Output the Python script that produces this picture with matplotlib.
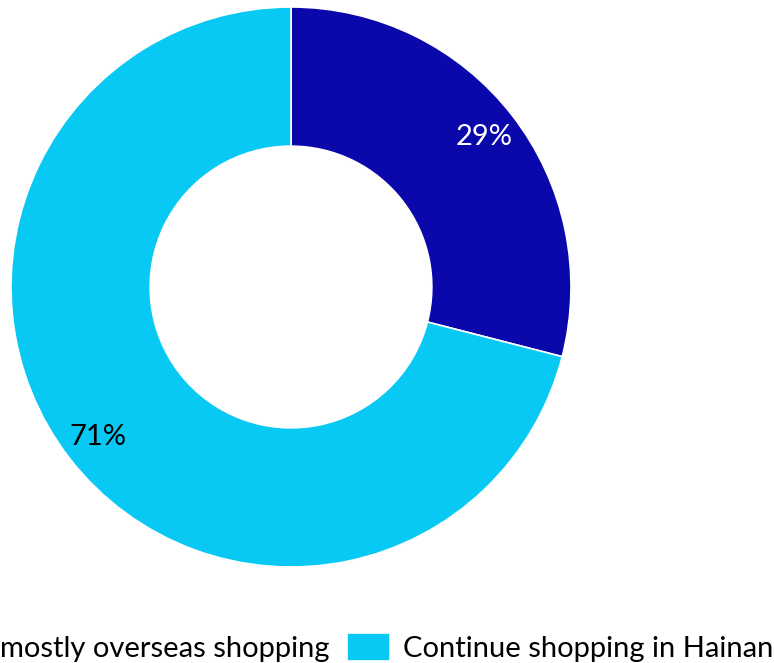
import matplotlib
matplotlib.use("Agg")
import matplotlib.pyplot as plt

# shares of respondents
labels = ["mostly overseas shopping", "Continue shopping in Hainan"]
shares = [29, 71]
colors = ["#0B08AB", "#07C9F3"]
text_colors = ["white", "black"]

plt.rcParams['font.family'] = ['Lato', 'DejaVu Sans']

W, H = 774, 663
fig = plt.figure(figsize=(W / 100, H / 100), dpi=100)

cx, cy, r = 291, 287, 280
ax = fig.add_axes([(cx - r) / W, (H - cy - r) / H, 2 * r / W, 2 * r / H])

wedges, texts, autotexts = ax.pie(
    shares, colors=colors, startangle=90, counterclock=False,
    radius=1.0, autopct='%1.0f%%', pctdistance=0.875,
    wedgeprops=dict(width=0.497, edgecolor='white', linewidth=1.2),
    textprops=dict(fontsize=21))
for t, c in zip(autotexts, text_colors):
    t.set_color(c)

ax.set_xlim(-1.0, 1.0)
ax.set_ylim(-1.0, 1.0)
ax.set_aspect('equal')
ax.axis('off')

fig.legend(wedges, labels, loc='lower right', bbox_to_anchor=(773 / W, 1 / H),
           ncol=2, frameon=False, fontsize=21, handlelength=1.47,
           handleheight=1.1, handletextpad=0.45, columnspacing=0.6,
           borderpad=0.0, borderaxespad=0.0)

fig.savefig("out.png", dpi=100)
